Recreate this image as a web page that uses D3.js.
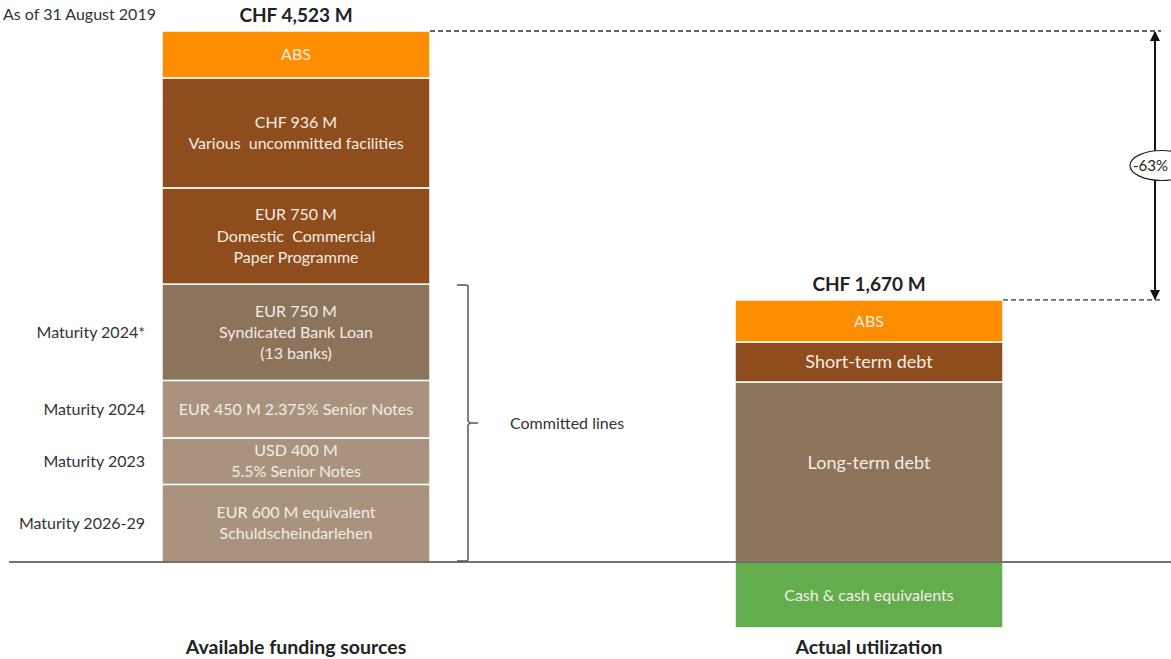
<!DOCTYPE html>
<html>
<head>
<meta charset="utf-8">
<script src="https://cdn.jsdelivr.net/npm/d3@7"></script>
<style>
  body { margin: 0; background: #fff; }
  svg { display: block; font-family: Lato, "Open Sans", sans-serif; }
  svg text { white-space: pre; }
</style>
</head>
<body>
<div id="chart"></div>
<script>
// columns
const columns = ["Available funding sources", "Actual utilization"];
const totalLabels = ["CHF 4,523 M", "CHF 1,670 M"];

// available funding sources, CHF M, bottom to top
const fundingLabels = [
  ["EUR 600 M equivalent", "Schuldscheindarlehen"],
  ["USD 400 M", "5.5% Senior Notes"],
  ["EUR 450 M 2.375% Senior Notes"],
  ["EUR 750 M", "Syndicated Bank Loan", "(13 banks)"],
  ["EUR 750 M", "Domestic  Commercial", "Paper Programme"],
  ["CHF 936 M", "Various  uncommitted facilities"],
  ["ABS"]
];
const fundingValues = [661, 396, 490, 820, 820, 936, 400];
const fundingKinds = ["light", "light", "light", "mid", "dark", "dark", "orange"];
const maturityLabels = ["Maturity 2026-29", "Maturity 2023", "Maturity 2024", "Maturity 2024*", null, null, null];

// actual utilization, CHF M, bottom to top (cash is negative)
const usageLabels = ["Long-term debt", "Short-term debt", "ABS"];
const usageValues = [1533, 341, 358];
const usageKinds = ["mid", "dark", "orange"];
const cashLabel = "Cash & cash equivalents";
const cashValue = -562;

const changeLabel = "-63%";
const dateLabel = "As of 31 August 2019";
const bracketLabel = "Committed lines";

const colors = {
  orange: "#fe8d00",
  dark: "#8f4c1c",
  mid: "#8c735c",
  light: "#a9937e",
  green: "#64ad4f"
};

const W = 1171, H = 659;
const svg = d3.select("#chart").append("svg")
    .attr("width", W)
    .attr("height", H);

const x = d3.scalePoint().domain(columns).range([296, 869]);
const barW = 268;
const y = d3.scaleLinear().domain([0, 4523]).range([562, 31]);

function stack(values) {
  let acc = 0;
  return values.map(v => { const s = acc; acc += v; return [s, acc]; });
}

function drawSegment(col, y0, y1, fill, lines, size, shift) {
  const cx = x(col);
  const top = Math.min(y(y0), y(y1)), bot = Math.max(y(y0), y(y1));
  svg.append("rect")
      .attr("x", cx - barW / 2)
      .attr("y", top)
      .attr("width", barW)
      .attr("height", bot - top)
      .attr("fill", fill)
      .attr("stroke", "#fff")
      .attr("stroke-width", 1.5);
  const lh = size * 1.33;
  const mid = (top + bot) / 2 + (shift || 0);
  const t = svg.append("text")
      .attr("text-anchor", "middle")
      .attr("fill", "#f4ece3")
      .style("font-size", size + "px");
  lines.forEach((l, i) => {
    t.append("tspan")
        .attr("x", cx)
        .attr("y", mid + (i - (lines.length - 1) / 2) * lh)
        .attr("dy", "0.35em")
        .text(l);
  });
}

// left bar
const fStack = stack(fundingValues);
fStack.forEach((s, i) => {
  drawSegment(columns[0], s[0], s[1], colors[fundingKinds[i]], fundingLabels[i], 16);
  if (maturityLabels[i]) {
    svg.append("text")
        .attr("x", 145)
        .attr("y", y((s[0] + s[1]) / 2))
        .attr("dy", "0.35em")
        .attr("text-anchor", "end")
        .attr("fill", "#333")
        .style("font-size", "16px")
        .text(maturityLabels[i]);
  }
});

// right bar
const uStack = stack(usageValues);
uStack.forEach((s, i) => {
  drawSegment(columns[1], s[0], s[1], colors[usageKinds[i]], [usageLabels[i]],
      i === 2 ? 16 : 18, i === 0 ? -9 : 0);
});
drawSegment(columns[1], 0, cashValue, colors.green, [cashLabel], 16);

// baseline
svg.append("line")
    .attr("x1", 9).attr("x2", W)
    .attr("y1", y(0)).attr("y2", y(0))
    .attr("stroke", "#444")
    .attr("stroke-width", 1.5);

// totals above bars
const tops = [d3.sum(fundingValues), d3.sum(usageValues)];
columns.forEach((c, i) => {
  svg.append("text")
      .attr("x", x(c))
      .attr("y", y(tops[i]) - 9)
      .attr("text-anchor", "middle")
      .attr("fill", "#222")
      .style("font-size", "19px")
      .style("font-weight", "bold")
      .text(totalLabels[i]);
  svg.append("text")
      .attr("x", x(c))
      .attr("y", 654)
      .attr("text-anchor", "middle")
      .attr("fill", "#222")
      .style("font-size", "19.5px")
      .style("font-weight", "bold")
      .text(c);
});

svg.append("text")
    .attr("x", 3)
    .attr("y", 20)
    .attr("fill", "#333")
    .style("font-size", "16px")
    .text(dateLabel);

// dashed guides and arrow
const arrowX = 1155;
svg.append("line")
    .attr("x1", x(columns[0]) + barW / 2).attr("x2", arrowX + 6)
    .attr("y1", y(tops[0])).attr("y2", y(tops[0]))
    .attr("stroke", "#333").attr("stroke-width", 1.3)
    .attr("stroke-dasharray", "5,3");
svg.append("line")
    .attr("x1", x(columns[1]) + barW / 2).attr("x2", arrowX + 6)
    .attr("y1", y(tops[1])).attr("y2", y(tops[1]))
    .attr("stroke", "#333").attr("stroke-width", 1.3)
    .attr("stroke-dasharray", "5,3");

const defs = svg.append("defs");
defs.append("marker")
    .attr("id", "ah")
    .attr("viewBox", "0 0 10 10")
    .attr("refX", 9).attr("refY", 5)
    .attr("markerWidth", 5).attr("markerHeight", 5)
    .attr("orient", "auto-start-reverse")
  .append("path")
    .attr("d", "M0,0 L10,5 L0,10 z")
    .attr("fill", "#111");

svg.append("line")
    .attr("x1", arrowX).attr("x2", arrowX)
    .attr("y1", y(tops[0]) + 1).attr("y2", y(tops[1]) - 1)
    .attr("stroke", "#111").attr("stroke-width", 2)
    .attr("marker-start", "url(#ah)")
    .attr("marker-end", "url(#ah)");

const midY = (y(tops[0]) + y(tops[1])) / 2;
svg.append("ellipse")
    .attr("cx", 1162).attr("cy", midY)
    .attr("rx", 32).attr("ry", 15)
    .attr("fill", "#fff")
    .attr("stroke", "#222")
    .attr("stroke-width", 1.2);
svg.append("text")
    .attr("x", 1133)
    .attr("y", midY)
    .attr("dy", "0.35em")
    .attr("fill", "#222")
    .style("font-size", "15px")
    .text(changeLabel);

// bracket for committed lines
const bTop = y(fStack[3][1]) + 1, bBot = y(0) - 1, bMid = (bTop + bBot) / 2;
svg.append("path")
    .attr("d", `M457,${bTop} L466,${bTop} Q468,${bTop} 468,${bTop + 2} L468,${bMid - 2} L470,${bMid} L478,${bMid} M470,${bMid} L468,${bMid + 2} L468,${bBot - 2} Q468,${bBot} 466,${bBot} L457,${bBot}`)
    .attr("fill", "none")
    .attr("stroke", "#555")
    .attr("stroke-width", 1.5);
svg.append("text")
    .attr("x", 510)
    .attr("y", bMid)
    .attr("dy", "0.35em")
    .attr("fill", "#333")
    .style("font-size", "16px")
    .text(bracketLabel);
</script>
</body>
</html>
